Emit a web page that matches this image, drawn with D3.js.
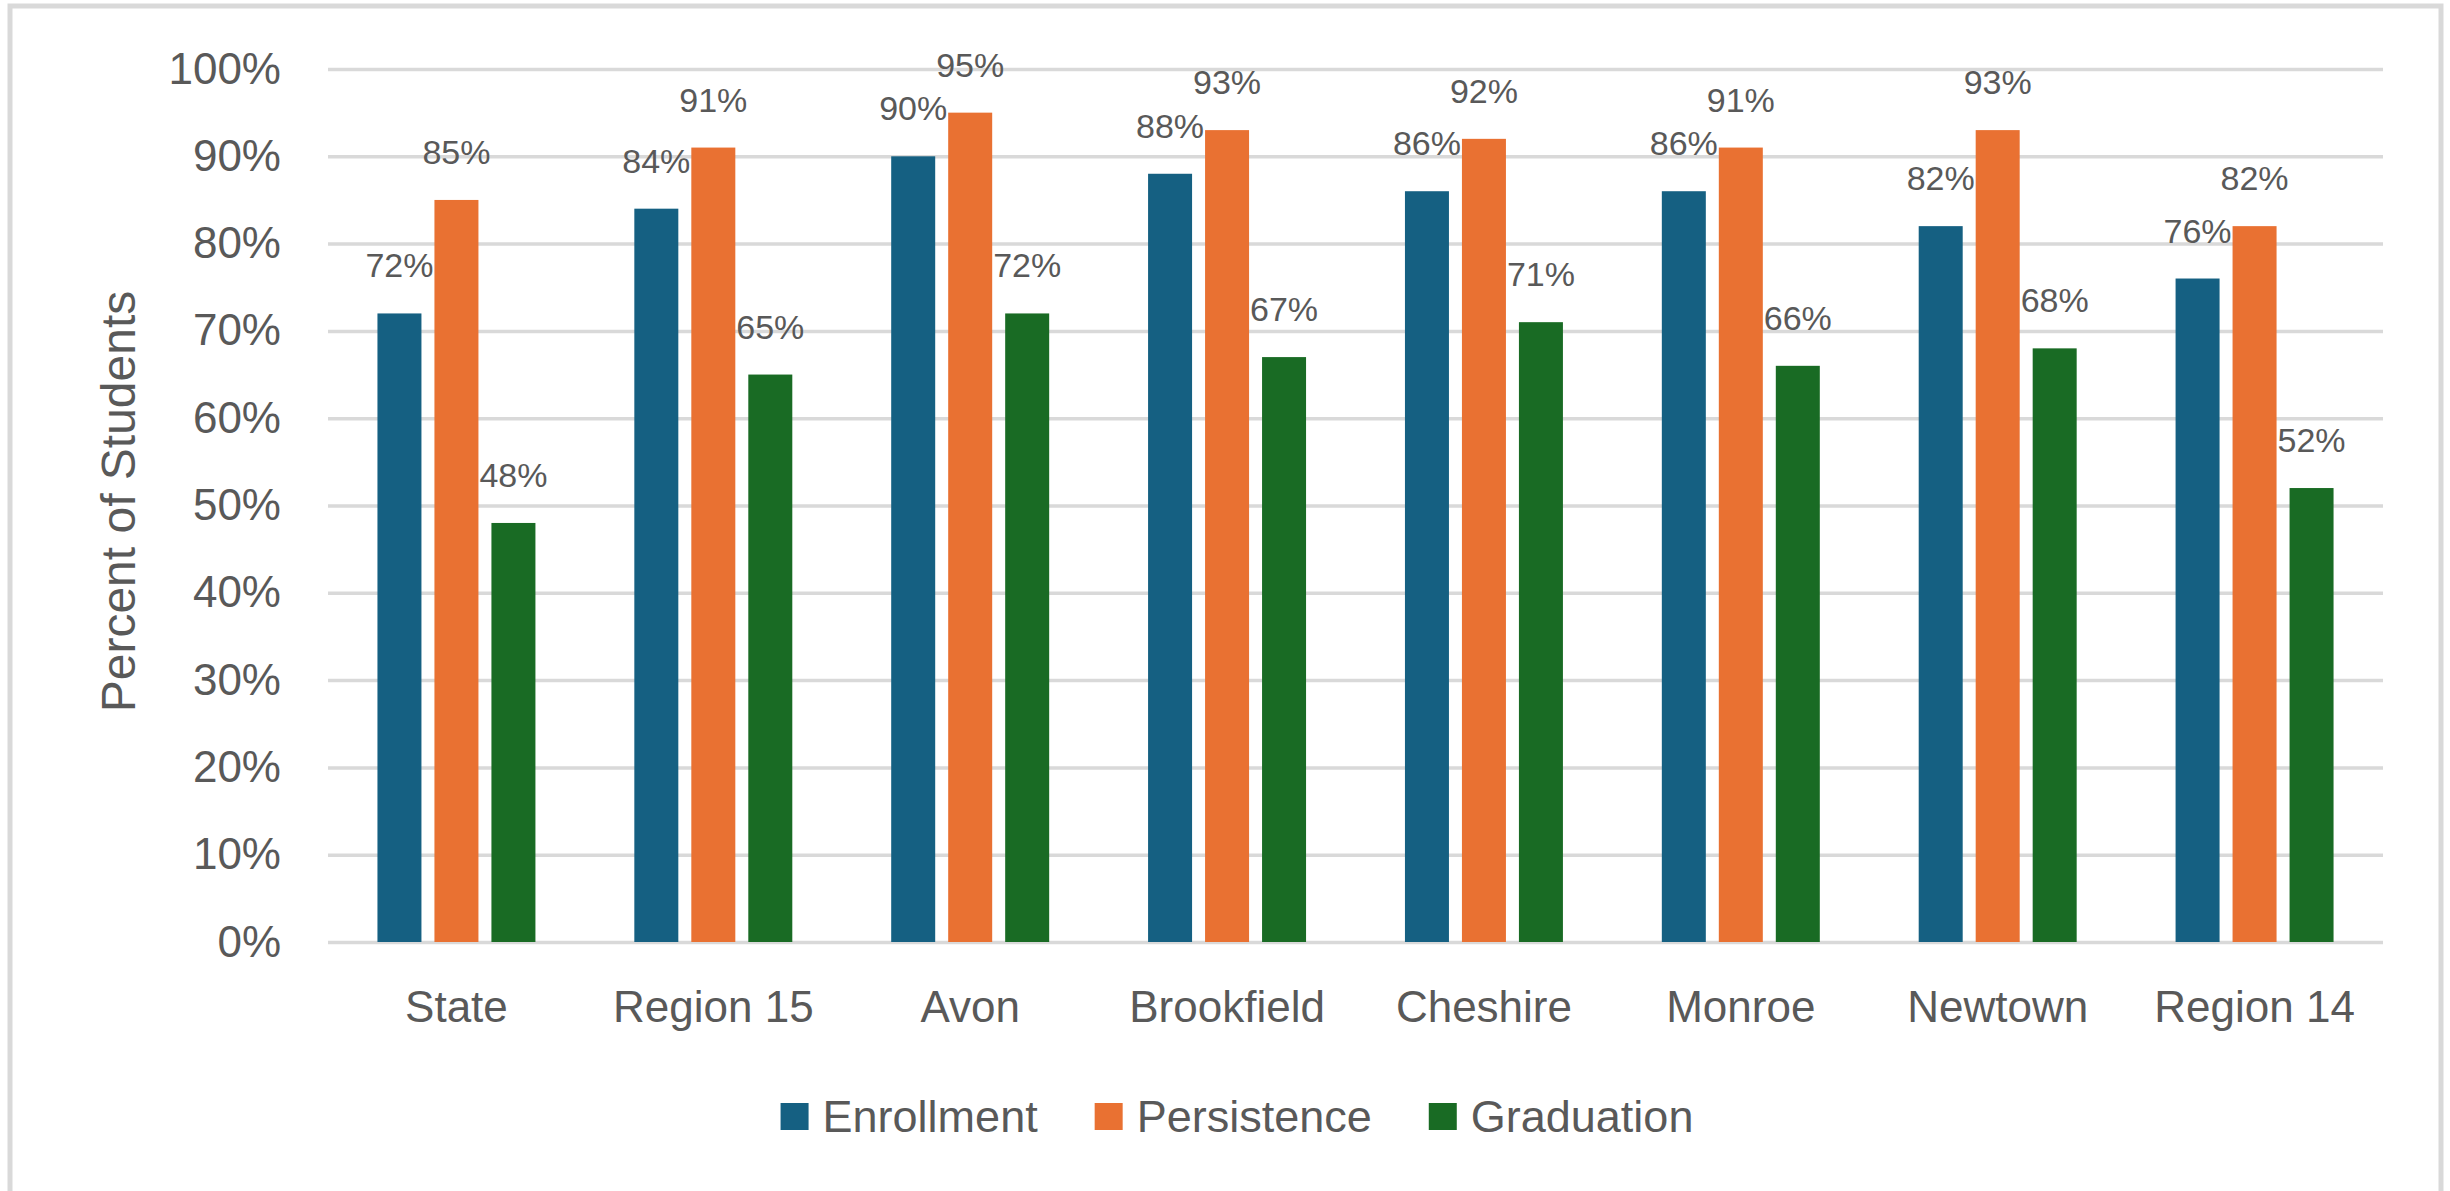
<!DOCTYPE html>
<html>
<head>
<meta charset="utf-8">
<script src="https://cdn.jsdelivr.net/npm/d3@7"></script>
<style>
  body { margin: 0; background: #fff; }
  text { font-family: "Liberation Sans", Arial, sans-serif; fill: #595959; }
</style>
</head>
<body>
<svg id="chart"></svg>
<script>
const categories = ['State', 'Region 15', 'Avon', 'Brookfield', 'Cheshire', 'Monroe', 'Newtown', 'Region 14'];
const seriesNames = ['Enrollment', 'Persistence', 'Graduation'];
const enrollment = [0.72, 0.84, 0.90, 0.88, 0.86, 0.86, 0.82, 0.76];
const persistence = [0.85, 0.91, 0.95, 0.93, 0.92, 0.91, 0.93, 0.82];
const graduation = [0.48, 0.65, 0.72, 0.67, 0.71, 0.66, 0.68, 0.52];
const yTicks = [0, 0.1, 0.2, 0.3, 0.4, 0.5, 0.6, 0.7, 0.8, 0.9, 1.0];

const WIDTH = 2450;
const HEIGHT = 1191;
const LEFT = 328, RIGHT = 2383, TOP = 69, BOTTOM = 942;

const colors = ['#156082', '#E97132', '#196B24'];
const seriesValues = [enrollment, persistence, graduation];

const svg = d3.select('#chart').attr('width', WIDTH).attr('height', HEIGHT);

// outer frame
svg.append('rect')
  .attr('x', 10).attr('y', 6)
  .attr('width', 2431).attr('height', 1300)
  .attr('fill', 'none')
  .attr('stroke', '#d9d9d9')
  .attr('stroke-width', 5);

const yScale = d3.scaleLinear().domain([0, 1]).range([BOTTOM, TOP]);

const x0 = d3.scaleBand()
  .domain(categories)
  .range([LEFT, RIGHT])
  .paddingInner(0.385)
  .paddingOuter(0.1925);

const x1 = d3.scaleBand()
  .domain(seriesNames)
  .range([0, x0.bandwidth()])
  .paddingInner(0.228);

// y axis with gridlines
const yAxisGroup = svg.append('g')
  .attr('transform', `translate(${LEFT}, 0)`)
  .call(d3.axisLeft(yScale)
    .tickValues(yTicks)
    .tickFormat(d3.format('.0%'))
    .tickSize(-(RIGHT - LEFT))
    .tickPadding(47));

yAxisGroup.select('.domain').remove();
yAxisGroup.selectAll('.tick line')
  .attr('stroke', '#d9d9d9')
  .attr('stroke-width', 3.5);
yAxisGroup.selectAll('.tick text')
  .attr('font-size', 44)
  .attr('fill', '#595959')
  .attr('font-family', '"Liberation Sans", Arial, sans-serif');

// x axis labels
const xAxisGroup = svg.append('g')
  .attr('transform', `translate(0, ${BOTTOM})`)
  .call(d3.axisBottom(x0).tickSize(0).tickPadding(0));
xAxisGroup.select('.domain').remove();
xAxisGroup.selectAll('.tick text')
  .attr('font-size', 44)
  .attr('fill', '#595959')
  .attr('font-family', '"Liberation Sans", Arial, sans-serif')
  .attr('dy', null)
  .attr('y', 80);

// bars
const rows = categories.map((c, i) => ({
  name: c,
  values: seriesNames.map((s, j) => ({ series: s, index: j, value: seriesValues[j][i] }))
}));

const groups = svg.selectAll('.group')
  .data(rows)
  .join('g')
  .attr('class', 'group')
  .attr('transform', d => `translate(${x0(d.name)}, 0)`);

groups.selectAll('rect')
  .data(d => d.values)
  .join('rect')
  .attr('x', d => x1(d.series))
  .attr('width', x1.bandwidth())
  .attr('y', d => yScale(d.value))
  .attr('height', d => BOTTOM - yScale(d.value))
  .attr('fill', d => colors[d.index]);

groups.selectAll('.label')
  .data(d => d.values)
  .join('text')
  .attr('class', 'label')
  .attr('x', d => x1(d.series) + x1.bandwidth() / 2)
  .attr('y', d => yScale(d.value) - 36)
  .attr('text-anchor', 'middle')
  .attr('font-size', 34)
  .text(d => d3.format('.0%')(d.value));

// axis title
svg.append('text')
  .attr('transform', `translate(135, ${(TOP + BOTTOM) / 2 - 4}) rotate(-90)`)
  .attr('text-anchor', 'middle')
  .attr('font-size', 48)
  .text('Percent of Students');

// legend
const legend = svg.append('g');
const items = legend.selectAll('g')
  .data(seriesNames)
  .join('g');
items.append('rect')
  .attr('width', 28).attr('height', 27)
  .attr('y', 1103)
  .attr('fill', (d, i) => colors[i]);
items.append('text')
  .attr('x', 42)
  .attr('y', 1132)
  .attr('font-size', 45)
  .text(d => d);

let xpos = 0;
const positions = [];
items.each(function () {
  positions.push(xpos);
  const w = 42 + this.querySelector('text').getComputedTextLength();
  xpos += w + 57;
});
const totalWidth = xpos - 57;
const startX = 1237 - totalWidth / 2;
items.attr('transform', (d, i) => `translate(${startX + positions[i]}, 0)`);
</script>
</body>
</html>
